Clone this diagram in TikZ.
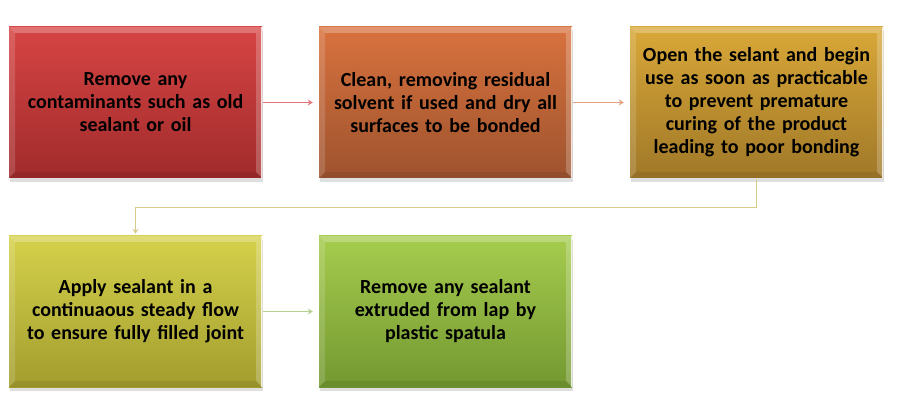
\documentclass[tikz,border=0pt]{standalone}
\usepackage{fontspec}
\setmainfont{Carlito}
\usetikzlibrary{shadows,arrows.meta}
\definecolor{rT}{HTML}{D64444}\definecolor{rB}{HTML}{A12B2B}
\definecolor{oT}{HTML}{D8723E}\definecolor{oB}{HTML}{9E532E}
\definecolor{gT}{HTML}{D9A838}\definecolor{gB}{HTML}{A07828}
\definecolor{yT}{HTML}{D5D14B}\definecolor{yB}{HTML}{A29D2E}
\definecolor{lT}{HTML}{A6CC4E}\definecolor{lB}{HTML}{739831}
\definecolor{rA}{HTML}{E07575}\definecolor{oA}{HTML}{E2A27F}
\definecolor{gA}{HTML}{D6CC8A}\definecolor{lA}{HTML}{B6D08E}
\tikzset{
  stepbox/.style={minimum width=253pt, minimum height=151pt, inner sep=0pt,
    text width=245pt, align=center,
    font=\bfseries\fontsize{20}{23}\selectfont,
    drop shadow={shadow xshift=1pt, shadow yshift=-4pt, opacity=0.25},
    path picture={
      \coordinate (NW) at (path picture bounding box.north west);
      \coordinate (NE) at (path picture bounding box.north east);
      \coordinate (SW) at (path picture bounding box.south west);
      \coordinate (SE) at (path picture bounding box.south east);
      \fill[white,opacity=0.25] (NW) -- (NE) -- ([shift={(-6pt,-6pt)}]NE) -- ([shift={(6pt,-6pt)}]NW) -- cycle;
      \fill[white,opacity=0.15] (NW) -- ([shift={(6pt,-6pt)}]NW) -- ([shift={(6pt,6pt)}]SW) -- (SW) -- cycle;
      \fill[white,opacity=0.22] (NE) -- ([shift={(-6pt,-6pt)}]NE) -- ([shift={(-6pt,6pt)}]SE) -- (SE) -- cycle;
      \fill[black,opacity=0.08] (SW) -- ([shift={(6pt,6pt)}]SW) -- ([shift={(-6pt,6pt)}]SE) -- (SE) -- cycle;
      \draw[white,line width=1.2pt,opacity=0.8] (NE) -- (SE);
    }},
  conn/.style={line width=1pt, -{Stealth[length=5pt,width=6pt]}, shorten >=6pt, shorten <=1pt}
}
\begin{document}
\begin{tikzpicture}[x=1pt,y=-1pt]
\useasboundingbox (0,0) rectangle (897,414);
\node[stepbox, top color=rT, bottom color=rB] (b1) at (135.5,102.5)
  {Remove any\\contaminants such as old\\sealant or oil};
\node[stepbox, top color=oT, bottom color=oB] (b2) at (445.5,102.5)
  {Clean, removing residual\\solvent if used and dry all\\surfaces to be bonded};
\node[stepbox, top color=gT, bottom color=gB] (b3) at (756.5,102.5)
  {Open the selant and begin\\use as soon as practicable\\to prevent premature\\curing of the product\\leading to poor bonding};
\node[stepbox, top color=yT, bottom color=yB] (b4) at (135.5,311.5)
  {Apply sealant in a\\continuaous steady flow\\to ensure fully filled joint};
\node[stepbox, top color=lT, bottom color=lB] (b5) at (445.5,311.5)
  {Remove any sealant\\extruded from lap by\\plastic spatula};
\draw[conn, rA] (b1.east) -- (b2.west);
\draw[conn, oA] (b2.east) -- (b3.west);
\draw[conn, gA, shorten >=2pt] (b3.south) -- ++(0,29) -| (b4.north);
\draw[conn, lA] (b4.east) -- (b5.west);
\end{tikzpicture}
\end{document}
